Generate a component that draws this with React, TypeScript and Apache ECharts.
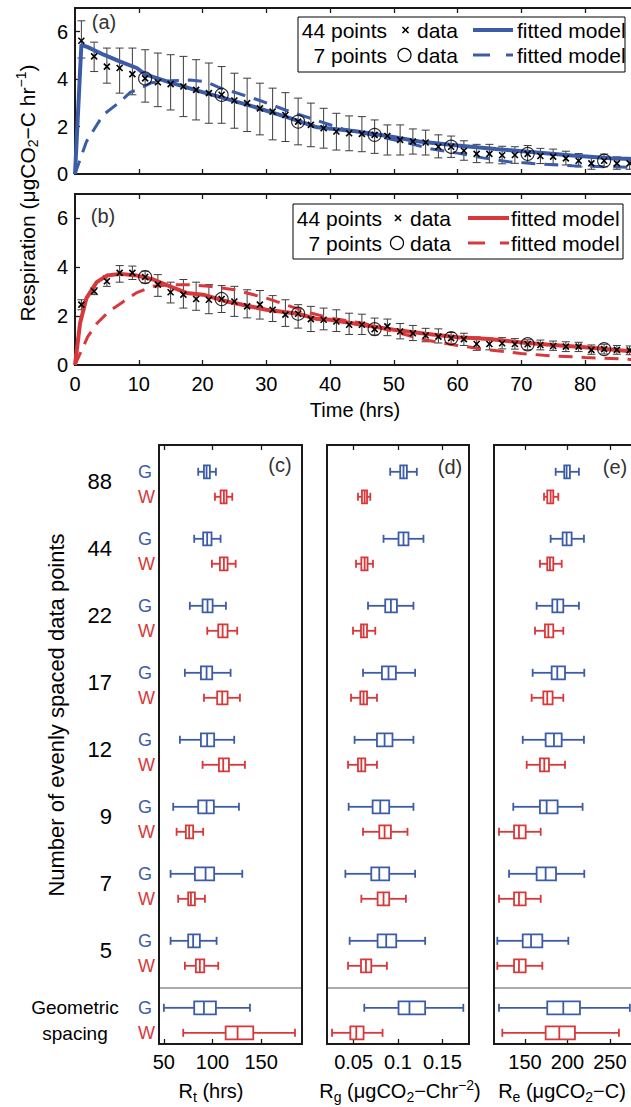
import React, { useEffect, useRef } from 'react';
import * as echarts from 'echarts';

const FONT = '"Liberation Sans", Arial, Helvetica, sans-serif';
const BLUE = '#3d5ca8';
const RED = '#d8383a';
const INK = '#1a1a1a';

// ---------- panels (a), (b): respiration time series ----------
const timeHours = [1, 3, 5, 7, 9, 11, 13, 15, 17, 19, 21, 23, 25, 27, 29, 31, 33, 35, 37, 39, 41, 43,
  45, 47, 49, 51, 53, 55, 57, 59, 61, 63, 65, 67, 69, 71, 73, 75, 77, 79, 81, 83, 85, 87];

const aMean = [5.62, 4.96, 4.53, 4.47, 4.21, 4.03, 3.87, 3.79, 3.69, 3.55, 3.41, 3.34, 3.10, 2.99, 2.77, 2.63,
  2.49, 2.21, 2.07, 1.93, 1.79, 1.72, 1.69, 1.65, 1.6, 1.44, 1.37, 1.33, 1.15, 1.15, 0.98, 0.85, 0.85, 0.79,
  0.8, 0.85, 0.76, 0.73, 0.66, 0.56, 0.45, 0.56, 0.45, 0.45];
const aHigh = [6.46, 5.56, 5.31, 5.31, 5.31, 5.24, 5.1, 5.03, 4.96, 4.82, 4.68, 4.53, 4.25, 4.04, 3.83, 3.62,
  3.43, 3.2, 2.99, 2.77, 2.56, 2.45, 2.42, 2.28, 2.07, 2.07, 1.9, 1.85, 1.65, 1.6, 1.4, 1.25, 1.25, 1.17,
  1.15, 1.2, 1.08, 1.05, 0.96, 0.86, 0.75, 0.84, 0.72, 0.7];
const aLow = [4.89, 4.32, 3.83, 3.41, 3.34, 3.03, 2.84, 2.7, 2.42, 2.28, 2.14, 2.14, 1.93, 1.79, 1.65, 1.44,
  1.37, 1.23, 1.15, 1.09, 1.01, 0.98, 0.94, 0.87, 0.8, 0.8, 0.84, 0.8, 0.68, 0.7, 0.58, 0.48, 0.47, 0.43,
  0.45, 0.5, 0.44, 0.42, 0.38, 0.3, 0.2, 0.3, 0.2, 0.2];

const bMean = [2.47, 3.02, 3.43, 3.77, 3.77, 3.6, 3.29, 2.98, 2.88, 2.7, 2.67, 2.7, 2.6, 2.4, 2.47, 2.26,
  2.06, 2.1, 1.88, 1.85, 1.78, 1.65, 1.65, 1.47, 1.58, 1.37, 1.3, 1.21, 1.16, 1.1, 1.06, 0.86, 0.86, 0.89,
  0.86, 0.85, 0.82, 0.78, 0.75, 0.75, 0.62, 0.65, 0.62, 0.6];
const bHigh = [2.67, 3.16, 3.66, 4.07, 4.05, 3.84, 3.7, 3.39, 3.5, 3.39, 3.29, 3.25, 3.22, 3.08, 3.05, 2.84,
  2.67, 2.47, 2.4, 2.33, 2.26, 2.12, 2.08, 1.92, 1.88, 1.7, 1.62, 1.5, 1.48, 1.33, 1.3, 1.15, 1.1, 1.12,
  1.08, 1.03, 1.02, 0.98, 0.95, 0.93, 0.82, 0.85, 0.8, 0.78];
const bLow = [2.26, 2.88, 3.22, 3.39, 3.5, 3.36, 2.81, 2.54, 2.33, 2.24, 2.1, 2.15, 1.99, 1.93, 1.88, 1.78,
  1.58, 1.51, 1.37, 1.44, 1.37, 1.25, 1.25, 1.23, 1.2, 1.07, 1.0, 0.95, 0.9, 0.86, 0.8, 0.6, 0.62, 0.66,
  0.65, 0.62, 0.62, 0.6, 0.55, 0.55, 0.44, 0.45, 0.44, 0.42];

const sevenHours = [11, 23, 35, 47, 59, 71, 83];
const aSeven = [4.03, 3.34, 2.21, 1.65, 1.15, 0.85, 0.56];
const bSeven = [3.6, 2.7, 2.1, 1.47, 1.1, 0.85, 0.65];

const aFit44T = [0, 1, 2, 4.5, 7, 9.7, 11, 15, 20, 22.7, 28, 33, 38, 44, 49, 54, 60, 66, 72, 78, 84, 88];
const aFit44V = [0, 5.45, 5.35, 5.03, 4.75, 4.47, 4.2, 3.85, 3.45, 3.25, 2.84, 2.42, 1.97, 1.8, 1.6, 1.37, 1.2,
  1.05, 0.92, 0.78, 0.66, 0.62];
const aFit7T = [0, 1.8, 4.4, 7.1, 8.7, 9.8, 12, 15, 18, 20.5, 23, 25, 29, 33, 37.5, 42, 47, 52, 56, 60, 64, 68,
  73, 78, 83, 88];
const aFit7V = [0, 1.37, 2.49, 3.05, 3.45, 3.55, 3.85, 3.93, 3.96, 3.9, 3.6, 3.45, 3.1, 2.7, 2.3, 1.9, 1.62,
  1.32, 1.05, 0.88, 0.68, 0.52, 0.42, 0.35, 0.31, 0.28];

const bFit44T = [0, 0.8, 1.8, 3.4, 5, 7.1, 9.7, 12.3, 14.9, 17.5, 20.1, 23.8, 25, 30, 35, 38, 40, 45, 50, 55,
  60, 65, 70, 75, 80, 88];
const bFit44V = [0, 1.72, 2.74, 3.39, 3.66, 3.73, 3.66, 3.5, 3.22, 2.95, 2.88, 2.6, 2.54, 2.26, 2.1, 1.88, 1.85,
  1.65, 1.44, 1.28, 1.14, 1.06, 0.92, 0.82, 0.73, 0.55];
const bFit7T = [0, 2, 3.5, 5.3, 7.4, 9.6, 12.2, 15, 18, 21, 25, 30, 33, 37, 40, 45, 50, 55, 60, 65, 70, 75, 80, 88];
const bFit7V = [0, 1.16, 1.72, 2.19, 2.56, 2.95, 3.22, 3.29, 3.29, 3.22, 3.08, 2.74, 2.47, 2.13, 1.92, 1.72,
  1.37, 1.02, 0.8, 0.62, 0.47, 0.37, 0.31, 0.22];

const timeTicks = [0, 10, 20, 30, 40, 50, 60, 70, 80];
const respTicks = [0, 2, 4, 6];

// ---------- panels (c), (d), (e): box plots ----------
const groupLabels = ['88', '44', '22', '17', '12', '9', '7', '5'];
// each row: [lower whisker, q1, median, q3, upper whisker]; last row = geometric spacing
const rtG = [[85.3, 91.2, 93.9, 97.3, 103.5], [81.2, 90.4, 94.5, 99.0, 108.3], [76.7, 89.8, 94.9, 100.1, 113.8],
  [71.6, 88.1, 93.9, 99.7, 118.6], [66.5, 88.1, 94.5, 101.7, 122.3], [59.6, 85.3, 93.9, 101.4, 127.2],
  [56.9, 81.9, 92.9, 101.7, 130.6], [56.9, 75.0, 80.1, 87.0, 104.2], [50.0, 81.2, 91.2, 103.5, 138.5]];
const rtW = [[102.5, 108.3, 111.7, 114.5, 120.3], [99.4, 107.6, 111.7, 115.5, 123.8], [94.6, 105.9, 110.4, 115.5, 125.4],
  [91.2, 104.8, 110.0, 115.5, 128.2], [89.8, 106.6, 111.0, 116.9, 133.3], [63.1, 72.6, 76.0, 80.1, 90.4],
  [64.7, 75.0, 77.8, 81.9, 92.2], [71.6, 82.9, 87.0, 91.5, 105.9], [69.9, 113.5, 125.8, 141.9, 184.8]];
const rgG = [[0.0912, 0.1025, 0.1062, 0.110, 0.1212], [0.0837, 0.1006, 0.1062, 0.1118, 0.1287],
  [0.0662, 0.0856, 0.092, 0.0988, 0.1174], [0.0606, 0.0819, 0.0893, 0.0976, 0.1193],
  [0.0511, 0.0763, 0.0849, 0.0938, 0.1174], [0.0444, 0.0714, 0.080, 0.0901, 0.1174],
  [0.0407, 0.0699, 0.0789, 0.0901, 0.1193], [0.0455, 0.077, 0.0867, 0.098, 0.1306],
  [0.062, 0.1006, 0.1129, 0.1306, 0.1736]];
const rgW = [[0.0549, 0.0594, 0.0624, 0.0651, 0.0688], [0.0527, 0.0587, 0.0624, 0.0657, 0.0718],
  [0.0493, 0.0583, 0.0612, 0.0651, 0.0744], [0.0471, 0.0575, 0.0612, 0.0651, 0.0763],
  [0.0437, 0.0549, 0.0587, 0.0631, 0.0763], [0.0606, 0.0789, 0.0849, 0.092, 0.1107],
  [0.0587, 0.077, 0.0837, 0.0901, 0.1089], [0.0437, 0.0583, 0.0639, 0.0699, 0.0875],
  [0.0257, 0.0463, 0.053, 0.0612, 0.0826]];
const reG = [[186.1, 196.2, 199, 202.9, 213.5], [180.2, 194.3, 199, 204.9, 219.4], [163.7, 182.2, 188, 195.1, 213.5],
  [159, 181.4, 188, 197.1, 219.8], [147.3, 174.3, 184.1, 193.2, 219.4], [136.2, 167.6, 175.5, 188.4, 217.8],
  [131.2, 163.7, 174.3, 186.5, 219.8], [117.4, 147.3, 157.1, 170.4, 201], [119.4, 176.2, 195.1, 214.7, 273.5]];
const reW = [[172.4, 176.2, 180.2, 183.3, 189.2], [167.6, 176.2, 179.4, 183.3, 193.2], [161.8, 173.5, 177.5, 183.3, 195.1],
  [157.8, 171.6, 176.2, 182.5, 195.1], [152, 167.6, 172.7, 178.2, 197.1], [119.4, 137.1, 142.9, 150.8, 168.5],
  [119.4, 137.1, 142.9, 150.8, 168.5], [117.4, 137.1, 142.9, 150.8, 170.4], [123.3, 174.3, 190.4, 208.8, 260.6]];

const rtTicks = [50, 100, 150];
const rgTicks = [0.05, 0.1, 0.15];
const reTicks = [150, 200, 250];

// ---------- layout ----------
const W_OFF = 0.373; // offset of the W row below the G row (in group units)
const ROW_MIN = -0.4;
const ROW_MAX = 8.54;

const fmtNum = (v: number) => String(Math.round(v * 1000) / 1000);

function xAx(gridIndex: number, position: string, min: number, max: number, ticks: number[], labels: boolean, margin = 8) {
  return {
    type: 'value', gridIndex, position, min, max,
    axisLine: { show: false, onZero: false }, splitLine: { show: false },
    axisTick: { show: true, inside: true, length: 5, customValues: ticks, lineStyle: { color: INK, width: 1.3 } },
    axisLabel: labels
      ? { show: true, customValues: ticks, fontSize: 20, color: '#000', fontFamily: FONT, margin, formatter: fmtNum }
      : { show: false },
  };
}

function yAx(gridIndex: number, position: string, labels: boolean) {
  return {
    type: 'value', gridIndex, position, min: 0, max: 7,
    axisLine: { show: false, onZero: false }, splitLine: { show: false },
    axisTick: { show: true, inside: true, length: 5, customValues: [2, 4, 6], lineStyle: { color: INK, width: 1.3 } },
    axisLabel: labels
      ? { show: true, customValues: respTicks, fontSize: 20, color: '#000', fontFamily: FONT, margin: 7, formatter: fmtNum }
      : { show: false },
  };
}

function rowAx(gridIndex: number, extra: any = {}) {
  return {
    type: 'value', gridIndex, position: 'left', min: ROW_MIN, max: ROW_MAX, inverse: true,
    axisLine: { show: false, onZero: false }, splitLine: { show: false }, axisTick: { show: false },
    axisLabel: { show: false }, ...extra,
  };
}

const errRender = (params: any, api: any) => {
  const t = api.value(0);
  const lo = api.coord([t, api.value(1)]);
  const hi = api.coord([t, api.value(2)]);
  const x = lo[0];
  const c = 4;
  const st = { stroke: '#3c3c3c', lineWidth: 1 };
  return {
    type: 'group',
    children: [
      { type: 'line', shape: { x1: x, y1: lo[1], x2: x, y2: hi[1] }, style: st },
      { type: 'line', shape: { x1: x - c, y1: lo[1], x2: x + c, y2: lo[1] }, style: st },
      { type: 'line', shape: { x1: x - c, y1: hi[1], x2: x + c, y2: hi[1] }, style: st },
    ],
  };
};

const crossRender = (params: any, api: any) => {
  const p = api.coord([api.value(0), api.value(1)]);
  const m = 3;
  const st = { stroke: '#000', lineWidth: 1.6 };
  return {
    type: 'group',
    children: [
      { type: 'line', shape: { x1: p[0] - m, y1: p[1] - m, x2: p[0] + m, y2: p[1] + m }, style: st },
      { type: 'line', shape: { x1: p[0] - m, y1: p[1] + m, x2: p[0] + m, y2: p[1] - m }, style: st },
    ],
  };
};

const boxRender = (params: any, api: any) => {
  const g = api.value(0);
  const s = api.value(1);
  const pos = g + (s === 1 ? W_OFF : 0);
  const col = s === 1 ? RED : BLUE;
  const pts = [2, 3, 4, 5, 6].map((i) => api.coord([api.value(i), pos]));
  const y = pts[0][1];
  const x = pts.map((p: number[]) => p[0]);
  const hh = 6.5;
  const cap = 4;
  const ls = { stroke: col, lineWidth: 1.8, fill: 'none' };
  return {
    type: 'group',
    children: [
      { type: 'line', shape: { x1: x[0], y1: y, x2: x[1], y2: y }, style: ls },
      { type: 'line', shape: { x1: x[3], y1: y, x2: x[4], y2: y }, style: ls },
      { type: 'line', shape: { x1: x[0], y1: y - cap, x2: x[0], y2: y + cap }, style: ls },
      { type: 'line', shape: { x1: x[4], y1: y - cap, x2: x[4], y2: y + cap }, style: ls },
      { type: 'rect', shape: { x: x[1], y: y - hh, width: x[3] - x[1], height: 2 * hh }, style: { stroke: col, lineWidth: 1.8, fill: '#fff' } },
      { type: 'line', shape: { x1: x[2], y1: y - hh, x2: x[2], y2: y + hh }, style: ls },
    ],
  };
};

const boxData = (gArr: number[][], wArr: number[][]) => {
  const out: number[][] = [];
  gArr.forEach((r, k) => out.push([k, 0, ...r]));
  wArr.forEach((r, k) => out.push([k, 1, ...r]));
  return out;
};

function timeSeries(xi: number, yi: number, color: string, mean: number[], low: number[], high: number[],
  seven: number[], f44T: number[], f44V: number[], f7T: number[], f7V: number[]) {
  return [
    {
      type: 'custom', xAxisIndex: xi, yAxisIndex: yi, renderItem: errRender, z: 2,
      data: timeHours.map((t, i) => [t, low[i], high[i]]),
    },
    {
      type: 'line', xAxisIndex: xi, yAxisIndex: yi, showSymbol: false, symbol: 'none', z: 3,
      lineStyle: { color, width: 3, type: [14, 9] },
      data: f7T.map((t, i) => [t, f7V[i]]),
    },
    {
      type: 'line', xAxisIndex: xi, yAxisIndex: yi, showSymbol: false, symbol: 'none', z: 3,
      lineStyle: { color, width: 4 },
      data: f44T.map((t, i) => [t, f44V[i]]),
    },
    {
      type: 'custom', xAxisIndex: xi, yAxisIndex: yi, renderItem: crossRender, z: 4,
      data: timeHours.map((t, i) => [t, mean[i]]),
    },
    {
      type: 'scatter', xAxisIndex: xi, yAxisIndex: yi, symbol: 'circle', symbolSize: 13, z: 5,
      itemStyle: { color: 'rgba(0,0,0,0)', borderColor: '#000', borderWidth: 1.2 },
      data: sevenHours.map((t, i) => [t, seven[i]]),
    },
  ];
}

const txt = (x: number, y: number, text: string, size: number, o: any = {}) => ({
  type: 'text', x, y, z: 100, silent: true, rotation: o.rotation || 0,
  style: {
    text, fontSize: size, fontFamily: FONT, fill: o.fill || '#000',
    align: o.align || 'center', verticalAlign: 'middle', rich: o.rich,
  },
});
const seg = (x1: number, y1: number, x2: number, y2: number, stroke: string, lineWidth: number) => ({
  type: 'line', z: 100, silent: true, shape: { x1, y1, x2, y2 }, style: { stroke, lineWidth },
});

const richUnits = (size: number) => ({
  n: { fontSize: size, fontFamily: FONT, fill: '#000' },
  sub: { fontSize: 14, fontFamily: FONT, fill: '#000', padding: [11, 0, 0, 0] },
  sup: { fontSize: 14, fontFamily: FONT, fill: '#000', padding: [0, 0, 13, 0] },
});

function legend(x: number, y: number, w: number, r1: number, r2: number, numRight: number, markX: number,
  dataX: number, l1: number, l2: number, l3: number, l4: number, fitX: number, color: string) {
  return [
    { type: 'rect', z: 99, silent: true, shape: { x, y, width: w, height: 55 }, style: { fill: '#fff', stroke: '#000', lineWidth: 1 } },
    txt(numRight, r1, '44 points', 21, { align: 'right' }),
    txt(numRight, r2, '7 points', 21, { align: 'right' }),
    seg(markX - 3, r1 - 3, markX + 3, r1 + 3, '#000', 1.6),
    seg(markX - 3, r1 + 3, markX + 3, r1 - 3, '#000', 1.6),
    { type: 'circle', z: 100, silent: true, shape: { cx: markX - 1, cy: r2, r: 6.5 }, style: { fill: 'none', stroke: '#000', lineWidth: 1.2 } },
    txt(dataX, r1, 'data', 21, { align: 'left' }),
    txt(dataX, r2, 'data', 21, { align: 'left' }),
    seg(l1, r1, l4, r1, color, 4),
    seg(l1, r2, l2, r2, color, 3),
    seg(l3, r2, l4, r2, color, 3),
    txt(fitX, r1, 'fitted model', 21, { align: 'left' }),
    txt(fitX, r2, 'fitted model', 21, { align: 'left' }),
  ];
}

export default function App() {
  const ref = useRef<HTMLDivElement>(null);
  useEffect(() => {
    if (!ref.current) return;
    const chart = echarts.init(ref.current, null, { renderer: 'svg' });
    const gridStyle = { show: true, borderColor: INK, borderWidth: 2, backgroundColor: 'rgba(0,0,0,0)' };
    const rowPositionsGW: number[] = [];
    for (let k = 0; k <= groupLabels.length; k++) { rowPositionsGW.push(k); rowPositionsGW.push(k + W_OFF); }
    const numPositions = groupLabels.map((_, k) => k + 0.15);

    const option: any = {
      animation: false,
      backgroundColor: '#fff',
      textStyle: { fontFamily: FONT },
      grid: [
        { left: 75, top: 8, width: 561, height: 166, ...gridStyle },
        { left: 75, top: 194, width: 561, height: 171, ...gridStyle },
        { left: 159, top: 445, width: 143, height: 599, ...gridStyle },
        { left: 327, top: 445, width: 142, height: 599, ...gridStyle },
        { left: 494, top: 445, width: 142, height: 599, ...gridStyle },
      ],
      xAxis: [
        xAx(0, 'bottom', 0, 88, timeTicks.slice(1), false),
        xAx(0, 'top', 0, 88, timeTicks.slice(1), false),
        xAx(1, 'bottom', 0, 88, timeTicks, true, 9),
        xAx(1, 'top', 0, 88, timeTicks.slice(1), false),
        xAx(2, 'bottom', 45, 192, rtTicks, true),
        xAx(2, 'top', 45, 192, rtTicks, false),
        xAx(3, 'bottom', 0.02, 0.18, rgTicks, true),
        xAx(3, 'top', 0.02, 0.18, rgTicks, false),
        xAx(4, 'bottom', 113.5, 280.7, reTicks, true),
        xAx(4, 'top', 113.5, 280.7, reTicks, false),
      ],
      yAxis: [
        yAx(0, 'left', true),
        yAx(0, 'right', false),
        yAx(1, 'left', true),
        yAx(1, 'right', false),
        rowAx(2, {
          axisLabel: {
            show: true, customValues: rowPositionsGW, align: 'left', margin: 21, fontSize: 18, fontFamily: FONT,
            formatter: (v: number) => (Math.abs(v - Math.round(v)) < 0.01 ? '{g|G}' : '{w|W}'),
            rich: { g: { color: BLUE, fontSize: 18, fontFamily: FONT }, w: { color: RED, fontSize: 18, fontFamily: FONT } },
          },
        }),
        rowAx(2, {
          axisLabel: {
            show: true, customValues: numPositions, align: 'right', margin: 47, fontSize: 22, color: '#000', fontFamily: FONT,
            formatter: (v: number) => groupLabels[Math.round(v - 0.15)] ?? '',
          },
        }),
        rowAx(3),
        rowAx(4),
      ],
      series: [
        ...timeSeries(0, 0, BLUE, aMean, aLow, aHigh, aSeven, aFit44T, aFit44V, aFit7T, aFit7V),
        ...timeSeries(2, 2, RED, bMean, bLow, bHigh, bSeven, bFit44T, bFit44V, bFit7T, bFit7V),
        { type: 'custom', xAxisIndex: 4, yAxisIndex: 4, renderItem: boxRender, z: 3, data: boxData(rtG, rtW) },
        { type: 'custom', xAxisIndex: 6, yAxisIndex: 6, renderItem: boxRender, z: 3, data: boxData(rgG, rgW) },
        { type: 'custom', xAxisIndex: 8, yAxisIndex: 7, renderItem: boxRender, z: 3, data: boxData(reG, reW) },
      ],
      graphic: {
        elements: [
          ...legend(298, 17, 327, 30, 55, 387, 405.5, 417, 473, 490, 506, 513, 517, BLUE),
          ...legend(293, 204, 330, 218, 243, 382, 398, 410, 468, 485, 500, 509, 511, RED),
          txt(104, 22, '(a)', 20, { fill: '#333' }),
          txt(103, 216, '(b)', 20, { fill: '#333' }),
          txt(280, 465, '(c)', 20, { fill: '#333' }),
          txt(450, 467, '(d)', 20, { fill: '#333' }),
          txt(615, 467, '(e)', 20, { fill: '#333' }),
          txt(355, 410, 'Time (hrs)', 20),
          txt(27, 193, '{n|Respiration (μgCO}{sub|2}{n|−C hr}{sup|−1}{n|)}', 21, { rotation: Math.PI / 2, rich: richUnits(21) }),
          txt(56, 715, 'Number of evenly spaced data points', 22, { rotation: Math.PI / 2 }),
          txt(75, 1007, 'Geometric', 19),
          txt(75, 1033, 'spacing', 19),
          txt(211, 1091, '{n|R}{sub|t}{n| (hrs)}', 20, { rich: richUnits(20) }),
          txt(400, 1091, '{n|R}{sub|g}{n| (μgCO}{sub|2}{n|−Chr}{sup|−2}{n|)}', 20, { rich: richUnits(20) }),
          txt(562, 1091, '{n|R}{sub|e}{n| (μgCO}{sub|2}{n|−C)}', 20, { rich: richUnits(20) }),
          seg(160, 988, 301, 988, '#aaaaaa', 2),
          seg(328, 988, 468, 988, '#aaaaaa', 2),
          seg(495, 988, 636, 988, '#aaaaaa', 2),
        ],
      },
    };
    chart.setOption(option);
    return () => chart.dispose();
  }, []);
  return (
    <div style={{ position: 'absolute', left: 0, top: 0, width: 631, height: 1107, overflow: 'hidden', background: '#fff' }}>
      <div ref={ref} style={{ width: 660, height: 1107 }} />
    </div>
  );
}
